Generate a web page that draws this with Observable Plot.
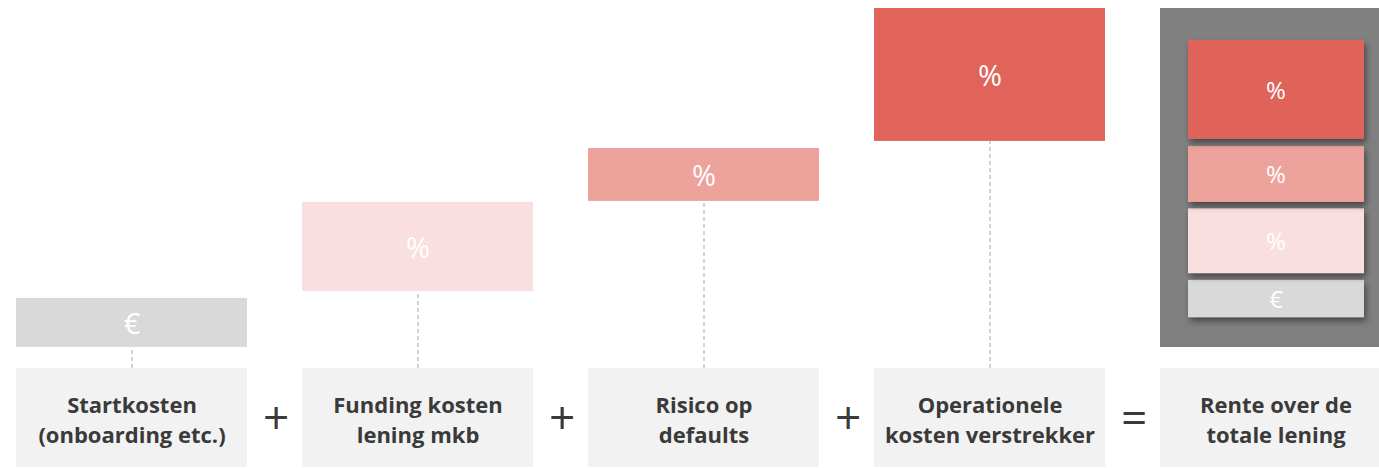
<!DOCTYPE html>
<html>
<head>
<meta charset="utf-8">
<script src="https://cdn.jsdelivr.net/npm/d3@7"></script>
<script src="https://cdn.jsdelivr.net/npm/@observablehq/plot@0.6"></script>
<style>
  html, body { margin: 0; padding: 0; background: #fff; overflow: hidden; }
</style>
</head>
<body>
<div id="chart"></div>
<script>
// ---- data ----
const categories = ["Startkosten", "Funding", "Risico", "Operationeel", "Totaal"];
const labelLine1 = ["Startkosten", "Funding kosten", "Risico op", "Operationele", "Rente over de"];
const labelLine2 = ["(onboarding etc.)", "lening mkb", "defaults", "kosten verstrekker", "totale lening"];
const stepSymbols = ["€", "%", "%", "%"];
const stepLow  = [0, 16.5, 43.1, 60.8];
const stepHigh = [14.5, 42.8, 58.7, 100];
const stepFills = ["#d9d9d9", "#f9dfdf", "#eda29b", "#e0645a"];
// inner stacked boxes of the total column (bottom to top)
const totalSymbols = ["€", "%", "%", "%"];
const totalLow  = [8.8, 21.8, 42.8, 61.4];
const totalHigh = [19.8, 40.9, 59.3, 90.6];
const totalFills = ["#d9d9d9", "#f9dfdf", "#eda29b", "#e0645a"];
const totalBg = [0, 100];
const labelBox = [-35.4, -6.2];
const operators = ["+", "+", "+", "="];

// ---- derived tables ----
const steps = stepLow.map((lo, i) => ({cat: categories[i], lo, hi: stepHigh[i], sym: stepSymbols[i], fill: stepFills[i]}));
const inner = totalLow.map((lo, i) => ({cat: categories[4], lo, hi: totalHigh[i], sym: totalSymbols[i], fill: totalFills[i]}));
const labels = categories.map((c, i) => ({cat: c, text: labelLine1[i] + "\n" + labelLine2[i]}));
const ops = operators.map((o, i) => ({cat: categories[i], op: o}));
const labelMid = (labelBox[0] + labelBox[1]) / 2;

const pInner = 0.194;
const xRange = [15, 1392];
const step = (xRange[1] - xRange[0]) / (categories.length - pInner);

const font = "'Open Sans', 'Noto Sans', sans-serif";

const chart = Plot.plot({
  width: 1379,
  height: 468,
  margin: 0,
  x: {type: "band", domain: categories, range: xRange, paddingInner: pInner, paddingOuter: 0, axis: null},
  y: {domain: [-35.69, 102.36], axis: null},
  marks: [
    // label boxes
    Plot.rectY(labels, {x: "cat", y1: labelBox[0], y2: labelBox[1], fill: "#f2f2f2"}),
    // dashed connectors
    Plot.ruleX(steps, {x: "cat", y1: labelBox[1], y2: "lo", stroke: "#c4c4c4", strokeWidth: 1.5, strokeDasharray: "4,3"}),
    // step boxes
    Plot.rectY(steps, {x: "cat", y1: "lo", y2: "hi", fill: "fill"}),
    Plot.text(steps, {x: "cat", y: d => (d.lo + d.hi) / 2, text: "sym", fill: "white", fontSize: 29, fontFamily: font, dy: 2}),
    // total column background
    Plot.rectY([categories[4]], {x: d => d, y1: totalBg[0], y2: totalBg[1], fill: "#808080"}),
    Plot.rectY(inner, {x: "cat", y1: "lo", y2: "hi", fill: "fill", insetLeft: 28, insetRight: 27, className: "innerbox"}),
    Plot.text(inner, {x: "cat", y: d => (d.lo + d.hi) / 2, text: "sym", fill: "white", fontSize: 24, fontFamily: font, dy: 1}),
    // labels
    Plot.text(labels, {x: "cat", y: labelMid, text: "text", fill: "#3a3a3a", fontSize: 22, fontWeight: "bold", fontFamily: font, lineHeight: 1.36, lineAnchor: "middle"}),
    // operators
    Plot.text(ops, {x: "cat", y: labelMid, text: "op", dx: step / 2 + 1, fill: "#3a3a3a", fontSize: 46, fontWeight: 400, fontFamily: font, lineAnchor: "middle", dy: 1})
  ]
});
d3.select(chart).selectAll("rect").filter(function () {
  return this.getAttribute("fill") && this.parentNode && this.parentNode.getAttribute("class") && false;
});
// add drop shadow to the inner stacked boxes
const svgSel = d3.select(chart);
const defs = svgSel.insert("defs", ":first-child");
const f = defs.append("filter").attr("id", "sh").attr("x", "-20%").attr("y", "-40%").attr("width", "140%").attr("height", "200%");
f.append("feDropShadow").attr("dx", 2).attr("dy", 4).attr("stdDeviation", 3).attr("flood-color", "#000").attr("flood-opacity", 0.45);
const rectGroups = svgSel.selectAll("g").filter(function () { return this.querySelector(":scope > rect"); }).nodes();
// the 4th rect group is the inner boxes (label boxes, steps, background, inner)
d3.select(rectGroups[3]).selectAll("rect").attr("filter", "url(#sh)");
document.getElementById("chart").appendChild(chart);
</script>
</body>
</html>
